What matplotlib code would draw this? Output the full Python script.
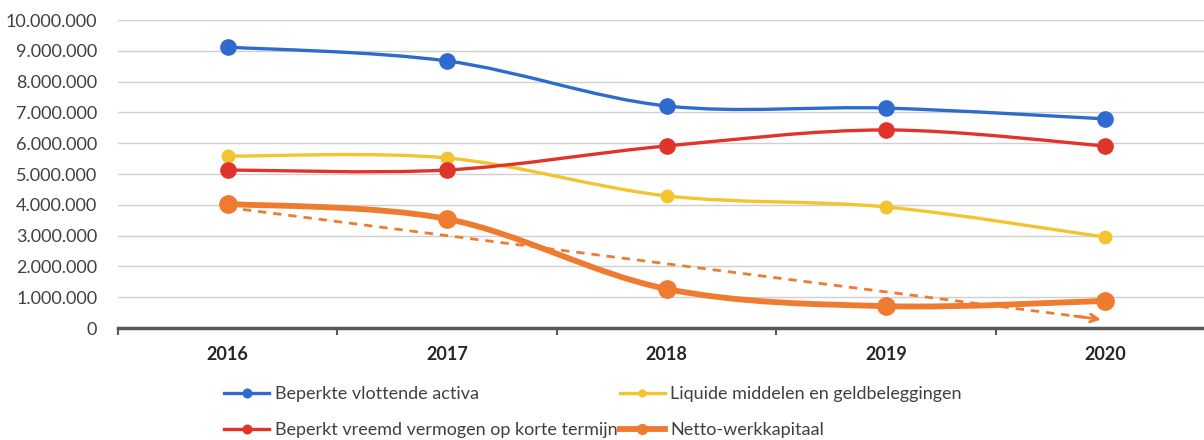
import numpy as np
import matplotlib
matplotlib.use("Agg")
import matplotlib.pyplot as plt
from matplotlib.path import Path
from matplotlib.patches import PathPatch
from matplotlib.lines import Line2D
from matplotlib.ticker import FuncFormatter, MultipleLocator

plt.rcParams['font.family'] = ['Lato', 'DejaVu Sans']

years = ["2016", "2017", "2018", "2019", "2020"]
beperkte_vlottende_activa = [9120000, 8670000, 7210000, 7140000, 6790000]
liquide_middelen = [5580000, 5520000, 4290000, 3930000, 2950000]
beperkt_vreemd_vermogen = [5130000, 5130000, 5910000, 6430000, 5910000]
netto_werkkapitaal = [4030000, 3540000, 1270000, 710000, 880000]

labels = ["Beperkte vlottende activa",
          "Liquide middelen en geldbeleggingen",
          "Beperkt vreemd vermogen op korte termijn",
          "Netto-werkkapitaal"]
series = [beperkte_vlottende_activa, liquide_middelen,
          beperkt_vreemd_vermogen, netto_werkkapitaal]
colors = ["#2F6BCF", "#F4C430", "#E0342B", "#EE7B30"]
widths = [2.4, 2.4, 2.4, 4.2]
msizes = [12, 10, 12, 13.5]


def smooth_path(xs, ys):
    """Catmull-Rom style Bezier path through the points."""
    pts = np.column_stack([xs, ys]).astype(float)
    n = len(pts)
    verts = [pts[0]]
    codes = [Path.MOVETO]
    for i in range(n - 1):
        p0 = pts[i - 1] if i > 0 else pts[i]
        p1 = pts[i]
        p2 = pts[i + 1]
        p3 = pts[i + 2] if i + 2 < n else pts[i + 1]
        c1 = p1 + (p2 - p0) / 6.0
        c2 = p2 - (p3 - p1) / 6.0
        verts += [c1, c2, p2]
        codes += [Path.CURVE4] * 3
    return Path(verts, codes)


fig = plt.figure(figsize=(12.04, 4.4), dpi=100)
ax = fig.add_axes([118 / 1204, 112 / 440, 1097 / 1204, 308 / 440])

x = np.arange(len(years))

# linear trend of the working capital, drawn as a dashed arrow
slope, intercept = np.polyfit(x, netto_werkkapitaal, 1)
x_end = 3.98
t0 = intercept
t1 = intercept + slope * x_end
ax.plot([0, x_end - 0.05], [t0, intercept + slope * (x_end - 0.05)],
        linestyle=(0, (3, 2.5)), color=colors[3], lw=2.0, zorder=2)
ax.annotate("", xy=(x_end, t1),
            xytext=(x_end - 0.12, intercept + slope * (x_end - 0.12)),
            arrowprops=dict(arrowstyle="->", color=colors[3], lw=2.0,
                            mutation_scale=14, shrinkA=0, shrinkB=0),
            zorder=2)

for vals, col, lw, ms, z in zip(series, colors, widths, msizes, [3, 4, 5, 6]):
    patch = PathPatch(smooth_path(x, vals), facecolor="none", edgecolor=col,
                      lw=lw, capstyle="round", joinstyle="round", zorder=z)
    ax.add_patch(patch)
    ax.plot(x, vals, linestyle="none", marker="o", ms=ms, color=col,
            markeredgewidth=0, zorder=z + 0.5, clip_on=False)

ax.set_xlim(-0.5, len(years) - 0.5)
ax.set_ylim(0, 10000000)
ax.yaxis.set_major_locator(MultipleLocator(1000000))
ax.yaxis.set_major_formatter(FuncFormatter(lambda v, p: f"{int(v):,}".replace(",", ".")))
ax.grid(axis="y", color="#CFCFCF", lw=1)
ax.set_axisbelow(True)

ax.set_xticks(x)
ax.set_xticklabels(years, fontweight="bold", fontsize=13, color="#262626")
ax.set_xticks(np.arange(-0.5, len(years)), minor=True)
ax.tick_params(axis="x", which="major", length=0, pad=13)
ax.tick_params(axis="x", which="minor", length=5, width=1.5, color="#595959", direction="out")
ax.tick_params(axis="y", length=0, pad=15, labelsize=13, labelcolor="#404040")

for s in ["top", "right", "left"]:
    ax.spines[s].set_visible(False)
ax.spines["bottom"].set_color("#595959")
ax.spines["bottom"].set_linewidth(2.5)

handles = [Line2D([0], [0], color=c, lw=w, marker="o", ms=m * 0.6, markeredgewidth=0)
           for c, w, m in zip(colors, widths, msizes)]
order = [0, 2, 1, 3]
fig.legend([handles[i] for i in order], [labels[i] for i in order],
           loc="upper left", bbox_to_anchor=(224 / 1204, 1 - 386 / 440),
           ncol=2, frameon=False, fontsize=13, handlelength=2.5,
           handletextpad=0.3, columnspacing=0.15, labelspacing=1.1,
           labelcolor="#404040", borderaxespad=0, borderpad=0)

fig.savefig("out.png", dpi=100, facecolor="white")
